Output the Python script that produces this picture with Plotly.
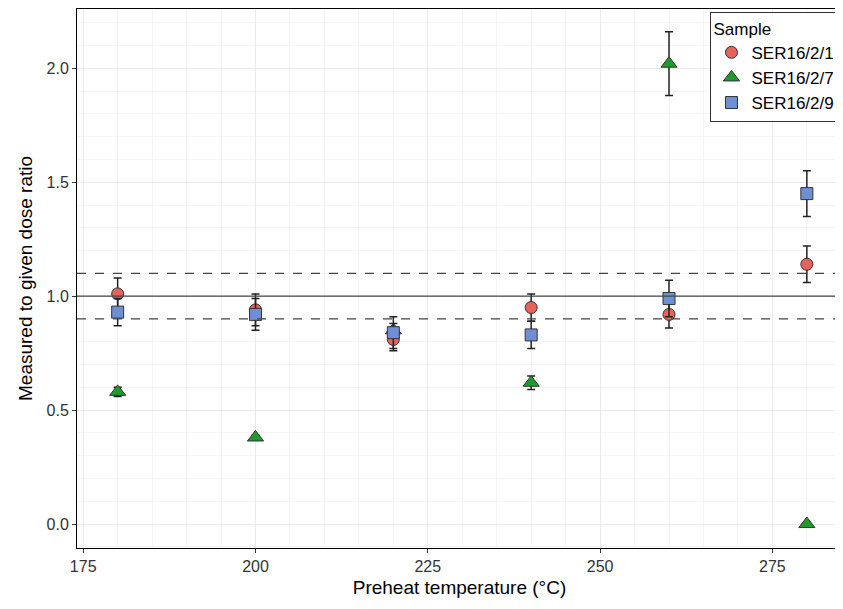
import plotly.graph_objects as go

temps = [180, 200, 220, 240, 260, 280]
samples = ["SER16/2/1", "SER16/2/7", "SER16/2/9"]
ratio = {
    "SER16/2/1": [1.01, 0.94, 0.81, 0.95, 0.92, 1.14],
    "SER16/2/7": [0.58, 0.38, 0.85, 0.62, 2.02, 0.0],
    "SER16/2/9": [0.93, 0.92, 0.84, 0.83, 0.99, 1.45],
}
err = {
    "SER16/2/1": [0.07, 0.07, 0.05, 0.06, 0.06, 0.08],
    "SER16/2/7": [0.02, 0.01, 0.03, 0.03, 0.14, 0.0],
    "SER16/2/9": [0.06, 0.07, 0.07, 0.06, 0.08, 0.10],
}
colors = {"SER16/2/1": "#E8625C", "SER16/2/7": "#1E9B2D", "SER16/2/9": "#6E8FD1"}
symbols = {"SER16/2/1": "circle", "SER16/2/7": "triangle-up", "SER16/2/9": "square"}
sizes = {"SER16/2/1": 12, "SER16/2/7": 14, "SER16/2/9": 12}
order = ["SER16/2/7", "SER16/2/1", "SER16/2/9"]

fig = go.Figure()
for s in order:
    fig.add_trace(go.Scatter(
        x=temps, y=ratio[s], mode="markers", name=s,
        error_y=dict(type="data", array=err[s], color="#222", thickness=1.5, width=4),
        marker=dict(color=colors[s], symbol=symbols[s], size=sizes[s],
                    line=dict(color="#333", width=1)),
        legendrank={"SER16/2/1": 1, "SER16/2/7": 2, "SER16/2/9": 3}[s],
    ))

fig.add_hline(y=1.0, line=dict(color="#444", width=1.2))
for yy in (0.9, 1.1):
    fig.add_hline(y=yy, line=dict(color="#444", width=1.2, dash="dash"))

axis = dict(showline=True, linecolor="black", linewidth=1, mirror=True,
            gridcolor="#EBEBEB", ticks="outside", ticklen=4, tickcolor="#333",
            tickfont=dict(size=16, color="#333"), zeroline=False, automargin=False,
            minor=dict(showgrid=True, gridcolor="#F5F5F5"))
fig.update_xaxes(axis, range=[174.1, 285.1], tickvals=[175, 200, 225, 250, 275],
                 title=dict(text="Preheat temperature (°C)", font=dict(size=19, color="black"), standoff=6))
fig.update_yaxes(axis, range=[-0.105, 2.26], tickvals=[0, 0.5, 1, 1.5, 2], tickformat=".1f",
                 title=dict(text="Measured to given dose ratio", font=dict(size=19, color="black"), standoff=8))
# the page body has an 8px margin, so the figure is sized to fit inside it
fig.update_layout(
    width=835, height=593, plot_bgcolor="white", paper_bgcolor="white",
    font=dict(family="Liberation Sans, Arial, sans-serif"),
    margin=dict(l=69, r=1, t=1, b=53),
    legend=dict(x=0.998, y=0.995, xanchor="right", yanchor="top", bgcolor="white",
                bordercolor="#333", borderwidth=1, font=dict(size=17, color="black"),
                title=dict(text="Sample", font=dict(size=17)), traceorder="normal",
                itemwidth=30),
)
fig.write_html("out.html")
